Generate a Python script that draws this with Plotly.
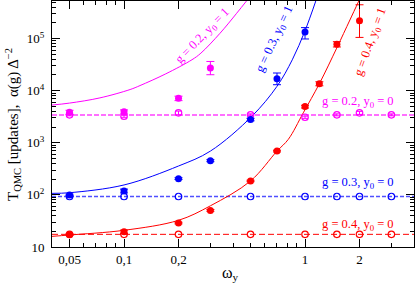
import math
import plotly.graph_objects as go

# ---------------- data ----------------
# QMC autocorrelation times, y0 = 1 (filled symbols)
w_g02_f = [0.05, 0.1, 0.2, 0.3]
T_g02_f = [3850, 3920, 7130, 27200]
e_g02_f_p = [350, 350, 700, 9100]
e_g02_f_m = [350, 350, 700, 7000]

w_g03_f = [0.05, 0.1, 0.2, 0.3, 0.5, 0.7, 1.0]
T_g03_f = [100, 119, 205, 454, 2790, 16900, 134000]
e_g03_f_p = [3, 10, 8, 20, 150, 4900, 28000]
e_g03_f_m = [3, 10, 8, 20, 150, 3900, 36000]

w_g04_f = [0.05, 0.1, 0.2, 0.3, 0.5, 0.7, 1.0, 1.2, 1.5, 2.0]
T_g04_f = [17.2, 19.6, 28.8, 50.4, 185, 692, 4940, 13600, 77900, 220000]
e_g04_f_p = [0.6, 1.5, 1, 2, 6, 25, 300, 1200, 9000, 224000]
e_g04_f_m = [0.6, 1.5, 1, 2, 6, 25, 300, 1200, 9000, 115000]

# QMC autocorrelation times, y0 = 0 (open symbols)
w_open = [0.05, 0.1, 0.2, 0.5, 1.0, 1.5, 2.0, 3.0]
T_g02_o = [3435, 3230, 3750, 3435, 3090, 3435, 3750, 3435]
e_g02_o = [150, 150, 300, 150, 150, 150, 250, 150]
T_g03_o = [93, 93, 93, 93, 93, 93, 93, 93]
T_g04_o = [17.5, 17.5, 17.5, 17.5, 17.5, 17.5, 17.5, 17.5]

# horizontal reference levels (y0 = 0)
x_span = [0.04, 4.0]
level_g02 = 3400
level_g03 = 93
level_g04 = 17.5

# alpha(g) Delta^-2 curves (y0 = 1)
w_c02 = [0.04, 0.05, 0.0736, 0.108, 0.1225, 0.17, 0.2374, 0.266, 0.339, 0.419, 0.478]
T_c02 = [5290, 5770, 7260, 10500, 12500, 21000, 39200, 52500, 126000, 305000, 540000]

w_c03 = [0.04, 0.05, 0.1, 0.2, 0.3, 0.509, 0.7, 0.85, 1.0, 1.15]
T_c03 = [107, 110, 155, 358, 692, 3230, 12100, 39000, 141000, 540000]

w_c04 = [0.04, 0.05, 0.1, 0.2, 0.3, 0.5, 0.7, 0.808, 0.978, 1.2, 1.496, 1.77, 1.99]
T_c04 = [16.0, 17.0, 20.9, 32.5, 61.7, 185, 692, 1160, 3750, 13600, 65400, 227000, 540000]

x_tickvals = [0.05, 0.1, 0.2, 1, 2]
x_ticktext = ["0,05", "0,1", "0,2", "1", "2"]
y_tickvals = [10, 100, 1000, 10000, 100000]
y_ticktext = ["10", "10<sup>2</sup>", "10<sup>3</sup>", "10<sup>4</sup>", "10<sup>5</sup>"]

MAG = "#ff00ff"
BLU = "#0000ff"
RED = "#ff0000"

fig = go.Figure()

# dashed levels
fig.add_trace(go.Scatter(x=x_span, y=[level_g02, level_g02], mode="lines",
                         line=dict(color="#ff70ff", width=2, dash="5px,2px")))
fig.add_trace(go.Scatter(x=x_span, y=[level_g03, level_g03], mode="lines",
                         line=dict(color="#5050ff", width=1.5, dash="4px,2px")))
fig.add_trace(go.Scatter(x=x_span, y=[level_g04, level_g04], mode="lines",
                         line=dict(color=RED, width=1, dash="6px,3px")))

# curves
for w, T, c in [(w_c02, T_c02, MAG), (w_c03, T_c03, BLU), (w_c04, T_c04, RED)]:
    fig.add_trace(go.Scatter(x=w, y=T, mode="lines", line=dict(color=c, width=1, shape="spline")))

# open symbols
def open_trace(w, T, c, e=None):
    kw = {}
    if e is not None:
        kw["error_y"] = dict(type="data", array=e, color=c, thickness=1, width=3)
    return go.Scatter(x=w, y=T, mode="markers",
                      marker=dict(symbol="circle-open", size=6.5, color=c, line=dict(width=1.2)), **kw)

fig.add_trace(open_trace(w_open, T_g02_o, MAG, e_g02_o))
fig.add_trace(open_trace(w_open, T_g03_o, BLU))
fig.add_trace(open_trace(w_open, T_g04_o, RED))

# filled symbols
def filled_trace(w, T, ep, em, c):
    return go.Scatter(x=w, y=T, mode="markers",
                      marker=dict(symbol="circle", size=7, color=c),
                      error_y=dict(type="data", array=ep, arrayminus=em, symmetric=False,
                                   color=c, thickness=1, width=4))

fig.add_trace(filled_trace(w_g02_f, T_g02_f, e_g02_f_p, e_g02_f_m, MAG))
fig.add_trace(filled_trace(w_g03_f, T_g03_f, e_g03_f_p, e_g03_f_m, BLU))
fig.add_trace(filled_trace(w_g04_f, T_g04_f, e_g04_f_p, e_g04_f_m, RED))

x_minor = [0.06, 0.07, 0.08, 0.09, 0.3, 0.4, 0.5, 0.6, 0.7, 0.8, 0.9, 3, 4]
y_minor = [m * 10 ** d for d in range(1, 6) for m in range(2, 10)]

fig.update_layout(
    width=415, height=284,
    margin=dict(l=52, r=1, t=1, b=37, autoexpand=False),
    plot_bgcolor="white", paper_bgcolor="white",
    showlegend=False,
    font=dict(family="Liberation Serif", size=13, color="black"),
    xaxis=dict(type="log", range=[math.log10(0.04), math.log10(4)], automargin=False,
               tickvals=x_tickvals, ticktext=x_ticktext,
               ticks="inside", ticklen=8, tickwidth=1, tickcolor="black",
               showline=True, linecolor="black", linewidth=1, mirror="allticks",
               showgrid=False, zeroline=False,
               minor=dict(tickvals=x_minor, ticks="inside", ticklen=4, tickwidth=1,
                          tickcolor="black", showgrid=False)),
    yaxis=dict(type="log", range=[1, 5.72], automargin=False,
               tickvals=y_tickvals, ticktext=y_ticktext,
               ticks="inside", ticklen=8, tickwidth=1, tickcolor="black",
               showline=True, linecolor="black", linewidth=1, mirror="allticks",
               showgrid=False, zeroline=False, ticklabelstandoff=4,
               minor=dict(tickvals=y_minor, ticks="inside", ticklen=4, tickwidth=1,
                          tickcolor="black", showgrid=False)),
)

def px2paper(x, y):
    return (x - 52) / 362.0, (247 - y) / 246.0

annots = [
    ("g = 0.2, y<sub>0</sub> = 1", MAG, 203, 36, -46),
    ("g = 0.3, y<sub>0</sub> = 1", BLU, 275, 39, -65),
    ("g = 0.4, y<sub>0</sub> = 1", RED, 371, 42, -70),
]
for txt, c, x, y, ang in annots:
    xp, yp = px2paper(x, y)
    fig.add_annotation(x=xp, y=yp, xref="paper", yref="paper", text=txt, showarrow=False,
                       textangle=ang, font=dict(size=12.5, color=c), xanchor="center", yanchor="middle")

for txt, c, y in [("g = 0.2, y<sub>0</sub> = 0", MAG, 102),
                  ("g = 0.3, y<sub>0</sub> = 0", BLU, 183),
                  ("g = 0.4, y<sub>0</sub> = 0", RED, 225)]:
    xp, yp = px2paper(396, y)
    fig.add_annotation(x=xp, y=yp, xref="paper", yref="paper", text=txt, showarrow=False,
                       font=dict(size=12.5, color=c), xanchor="right", yanchor="middle")

# axis titles
xp, yp = px2paper(230, 273)
fig.add_annotation(x=xp, y=yp, xref="paper", yref="paper", text="ω<sub>y</sub>", showarrow=False,
                   font=dict(size=16), xanchor="center", yanchor="middle")
xp, yp = px2paper(13, 125)
fig.add_annotation(x=xp, y=yp, xref="paper", yref="paper",
                   text="T<sub>QMC</sub> [updates],  α(g) Δ<sup>−2</sup>", showarrow=False,
                   textangle=-90, font=dict(size=15), xanchor="center", yanchor="middle")

fig.write_html("out.html", config={"displayModeBar": False},
               post_script="document.body.style.margin='0px';")
